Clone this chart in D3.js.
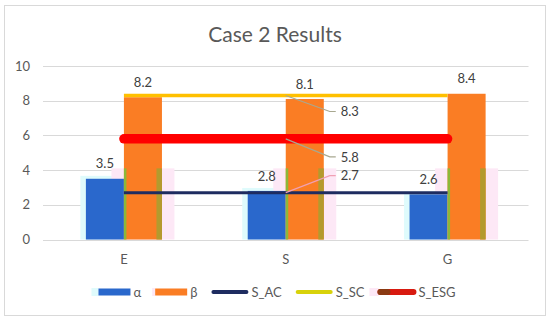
<!DOCTYPE html>
<html>
<head>
<meta charset="utf-8">
<script src="https://cdn.jsdelivr.net/npm/d3@7"></script>
<style>
  body { margin: 0; background: #fff; }
  svg text { font-family: Lato, "Open Sans", sans-serif; fill: #595959; }
</style>
</head>
<body>
<svg width="550" height="321"></svg>
<script>
var categories = ["E", "S", "G"];
var alphaValues = [3.5, 2.8, 2.6];
var betaValues = [8.2, 8.1, 8.4];
var sAcValues = [2.7, 2.7, 2.7];
var sScValues = [8.3, 8.3, 8.3];
var sEsgValues = [5.8, 5.8, 5.8];
var yTicks = [0, 2, 4, 6, 8, 10];
// faint ghost marks that show in the source picture
var ghostLevel = 4.1;

var svg = d3.select("svg");

var bars = [
  {key: "α", values: alphaValues, color: "#2a68cc"},
  {key: "β", values: betaValues, color: "#fa7d24"}
];
var lines = [
  {key: "S_AC", values: sAcValues, color: "#1e2c60", width: 3, legendColor: "#1e2c60", legendWidth: 4},
  {key: "S_SC", values: sScValues, color: "#ffc000", width: 3.5, legendColor: "#d8d20a", legendWidth: 4},
  {key: "S_ESG", values: sEsgValues, color: "#ff0000", width: 9.5, legendColor: "#d81a10", legendWidth: 6}
];

// outer frame
svg.append("rect")
  .attr("x", 4.5).attr("y", 5.5)
  .attr("width", 541).attr("height", 310)
  .attr("fill", "#fff")
  .attr("stroke", "#d9d9d9");

svg.append("text")
  .attr("x", 275).attr("y", 42)
  .attr("text-anchor", "middle")
  .style("font-size", "21px")
  .text("Case 2 Results");

var x0 = d3.scaleBand()
      .domain(categories)
      .range([43, 528.5])
      .paddingInner(0.53)
      .paddingOuter(0.265);

var x1 = d3.scaleBand()
      .domain(bars.map(function(d) { return d.key; }))
      .range([0, x0.bandwidth()]);

var y = d3.scaleLinear()
      .domain([0, 10])
      .range([239.5, 66]);

function center(c) { return x0(c) + x0.bandwidth() / 2; }

// grid + y labels
var grid = svg.append("g").attr("class", "grid");
grid.selectAll("line")
  .data(yTicks)
  .enter().append("line")
  .attr("x1", 43).attr("x2", 528.5)
  .attr("y1", function(d) { return Math.round(y(d)) + 0.5; })
  .attr("y2", function(d) { return Math.round(y(d)) + 0.5; })
  .attr("stroke", "#d9d9d9");

grid.selectAll("text")
  .data(yTicks)
  .enter().append("text")
  .attr("x", 30)
  .attr("y", function(d) { return y(d); })
  .attr("dy", "0.36em")
  .attr("text-anchor", "end")
  .style("font-size", "13px")
  .text(function(d) { return d; });

// x labels
svg.append("g").selectAll("text")
  .data(categories)
  .enter().append("text")
  .attr("x", center)
  .attr("y", 264)
  .attr("text-anchor", "middle")
  .style("font-size", "13px")
  .text(function(d) { return d; });

// ghosts behind the bars
var ghosts = svg.append("g").attr("class", "ghosts");
ghosts.selectAll("rect.cyan")
  .data(categories)
  .enter().append("rect")
  .attr("class", "cyan")
  .attr("x", function(c) { return x0(c) + x1("α") - 5.5; })
  .attr("width", x1.bandwidth() + 11)
  .attr("y", function(c, i) { return y(alphaValues[i] + 0.17); })
  .attr("height", function(c, i) { return y(0) - y(alphaValues[i] + 0.17); })
  .attr("fill", "#dffbfc");
ghosts.selectAll("rect.pink")
  .data(categories)
  .enter().append("rect")
  .attr("class", "pink")
  .attr("x", function(c) { return x0(c) + x1("β") + x1.bandwidth() / 2 - 31.5; })
  .attr("width", 63)
  .attr("y", y(ghostLevel))
  .attr("height", y(0) - y(ghostLevel))
  .attr("fill", "#fde8f6");

// bars
var barGroup = svg.append("g").attr("class", "bars")
  .selectAll("g")
  .data(bars)
  .enter().append("g")
  .attr("fill", function(d) { return d.color; });

barGroup.selectAll("rect")
  .data(function(d) { return d.values.map(function(v, i) { return {key: d.key, cat: categories[i], value: v}; }); })
  .enter().append("rect")
  .attr("x", function(d) { return x0(d.cat) + x1(d.key); })
  .attr("width", x1.bandwidth())
  .attr("y", function(d) { return y(d.value); })
  .attr("height", function(d) { return y(0) - y(d.value); });

// olive / green edges on the orange bars
ghosts = svg.append("g").attr("class", "ghost-edges");
ghosts.selectAll("rect.olive")
  .data(categories)
  .enter().append("rect")
  .attr("x", function(c) { return x0(c) + x1("β") + x1.bandwidth() - 5.5; })
  .attr("width", 5.5)
  .attr("y", y(ghostLevel))
  .attr("height", y(0) - y(ghostLevel))
  .attr("fill", "#b39a2e");
ghosts.selectAll("rect.green")
  .data(categories)
  .enter().append("rect")
  .attr("x", function(c) { return x0(c) + x1("β"); })
  .attr("width", 2.5)
  .attr("y", y(ghostLevel))
  .attr("height", y(0) - y(ghostLevel))
  .attr("fill", "#8cb83a");

// bar labels
barGroup.selectAll("text")
  .data(function(d) { return d.values.map(function(v, i) { return {key: d.key, cat: categories[i], value: v}; }); })
  .enter().append("text")
  .attr("x", function(d) { return x0(d.cat) + x1(d.key) + x1.bandwidth() / 2; })
  .attr("y", function(d) { return y(d.value) - 15; })
  .attr("dy", "0.36em")
  .attr("text-anchor", "middle")
  .style("font-size", "13px")
  .style("fill", "#404040")
  .text(function(d) { return d.value; });

// lines
var line = d3.line()
      .x(function(d, i) { return center(categories[i]); })
      .y(function(d) { return y(d); });

svg.append("g").attr("class", "lines")
  .selectAll("path")
  .data(lines)
  .enter().append("path")
  .attr("d", function(d) { return line(d.values); })
  .attr("fill", "none")
  .attr("stroke", function(d) { return d.color; })
  .attr("stroke-width", function(d) { return d.width; })
  .attr("stroke-linecap", function(d) { return d.key === "S_ESG" ? "round" : "butt"; });

// line labels with leaders, hung off the middle category
var leaderColor = {"S_AC": "#f0a0b4", "S_SC": "#a8a890", "S_ESG": "#a8a890"};
var leaderDy = {"S_AC": -17, "S_SC": 16, "S_ESG": 18};
var lineLabels = svg.append("g").attr("class", "line-labels")
  .selectAll("g")
  .data(lines)
  .enter().append("g");

lineLabels.append("path")
  .attr("d", function(d) {
    var ax = center(categories[1]), ay = y(d.values[1]), ly = ay + leaderDy[d.key];
    return "M" + ax + "," + ay + "L" + (ax + 44) + "," + ly + "L" + (ax + 50) + "," + ly;
  })
  .attr("fill", "none")
  .attr("stroke", function(d) { return leaderColor[d.key]; })
  .attr("stroke-width", 1.2);

lineLabels.append("text")
  .attr("x", center(categories[1]) + 55)
  .attr("y", function(d) { return y(d.values[1]) + leaderDy[d.key]; })
  .attr("dy", "0.36em")
  .style("font-size", "13px")
  .style("fill", "#404040")
  .text(function(d) { return d.values[1]; });

// legend
var legend = svg.append("g").attr("class", "legend");
var items = bars.map(function(d) { return {key: d.key, color: d.color, type: "bar"}; })
  .concat(lines.map(function(d) { return {key: d.key, color: d.legendColor, width: d.legendWidth, type: "line"}; }));

var lx = 0, ly = 292;
items.forEach(function(d) {
  var g = legend.append("g").attr("transform", "translate(" + lx + ",0)");
  if (d.type === "bar") {
    g.append("rect")
      .attr("x", d.key === "α" ? -7 : -3).attr("y", ly - 4)
      .attr("width", d.key === "α" ? 7 : 3).attr("height", 8)
      .attr("fill", d.key === "α" ? "#dffbfc" : "#fde8f6");
    g.append("rect")
      .attr("x", 0).attr("y", ly - 3.5)
      .attr("width", 32).attr("height", 7)
      .attr("fill", d.color);
  } else {
    if (d.key === "S_ESG") {
      g.append("rect")
        .attr("x", -9).attr("y", ly - 4)
        .attr("width", 9).attr("height", 8)
        .attr("fill", "#fde8f6");
    }
    g.append("line")
      .attr("x1", 2).attr("x2", 35)
      .attr("y1", ly).attr("y2", ly)
      .attr("stroke", d.color)
      .attr("stroke-width", d.width)
      .attr("stroke-linecap", "round");
    if (d.key === "S_ESG") {
      g.append("line")
        .attr("x1", 2).attr("x2", 9)
        .attr("y1", ly).attr("y2", ly)
        .attr("stroke", "#8a3a12")
        .attr("stroke-width", d.width)
        .attr("stroke-linecap", "round");
    }
  }
  var sw = d.type === "bar" ? 32 : 37;
  var t = g.append("text")
    .attr("x", sw + 3)
    .attr("y", ly)
    .attr("dy", "0.36em")
    .style("font-size", "13px")
    .text(d.key);
  lx += sw + 3 + t.node().getComputedTextLength() + 14;
});
var legendW = lx - 14;
legend.attr("transform", "translate(" + (277 - legendW / 2) + ",0)");
</script>
</body>
</html>
